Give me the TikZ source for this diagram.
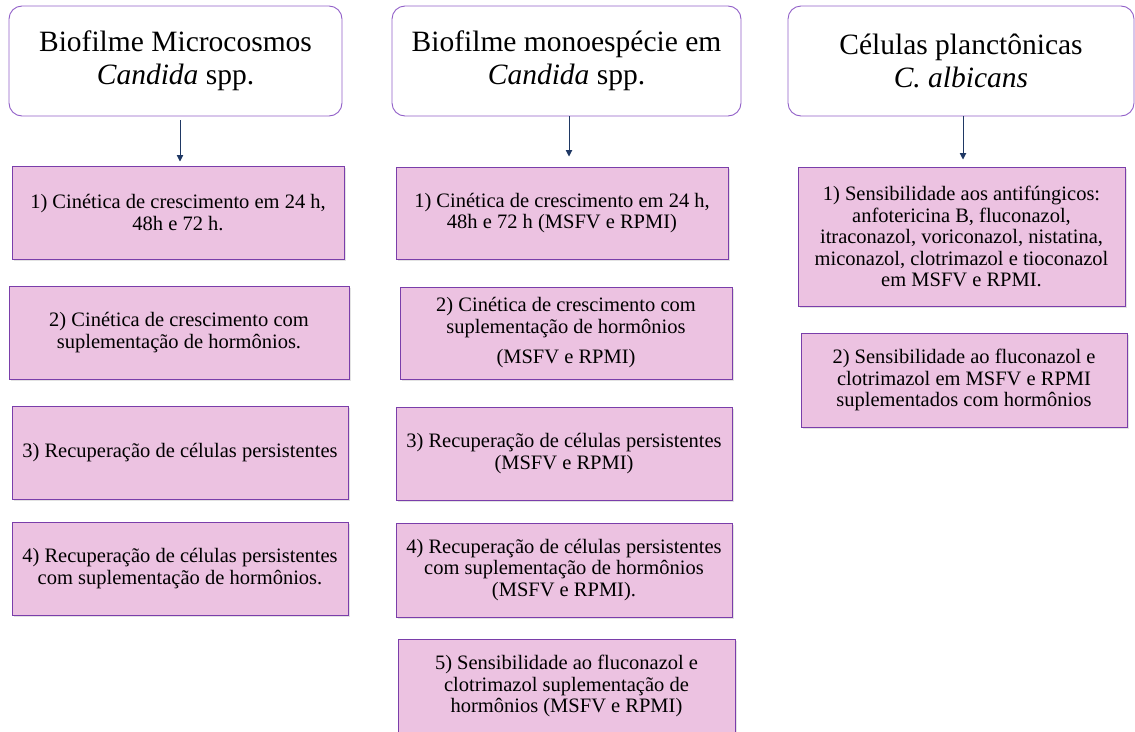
\documentclass[tikz,border=0pt]{standalone}
\usepackage{fontspec}
\setmainfont{Liberation Serif}
\usetikzlibrary{arrows.meta,shadows}
\definecolor{hdrborder}{RGB}{145,95,200}
\definecolor{boxfill}{RGB}{236,194,225}
\definecolor{boxborder}{RGB}{122,62,170}
\definecolor{arrowcol}{RGB}{31,56,100}
\begin{document}
\begin{tikzpicture}[x=1pt,y=1pt,
  hdr/.style={draw=hdrborder, line width=0.9pt, rounded corners=13pt, fill=white,
    align=center, font=\fontsize{29.5}{33}\selectfont, inner sep=0pt},
  stepbox/.style={draw=boxborder, line width=1pt, fill=boxfill, align=center,
    font=\fontsize{20.5}{21.5}\selectfont, inner sep=0pt,
    drop shadow={opacity=0.22, shadow xshift=1.5pt, shadow yshift=-1.5pt}},
  arr/.style={draw=arrowcol, line width=0.9pt, -{Triangle[length=6.5pt,width=6.5pt]}}]
\useasboundingbox (0,0) rectangle (1135,-731);

% headers
\node[hdr, minimum width=333pt, minimum height=110pt] (h1) at (175.5,-61)
  {Biofilme Microcosmos\\\textit{Candida} spp.};
\node[hdr, minimum width=349pt, minimum height=110pt] (h2) at (566.5,-61)
  {Biofilme monoespécie em\\\textit{Candida} spp.};
\node[hdr, minimum width=346pt, minimum height=110pt] (h3) at (961,-61)
  {Células planctônicas\\\textit{C. albicans}};

% column 1
\node[stepbox, minimum width=332pt, minimum height=93pt] (b1) at (178,-212.5)
  {1) Cinética de crescimento em 24 h,\\48h e 72 h.};
\node[stepbox, minimum width=340pt, minimum height=93pt] (b2) at (179,-332.5)
  {2) Cinética de crescimento com\\suplementação de hormônios.};
\node[stepbox, minimum width=336pt, minimum height=93pt] (b3) at (180,-452.5)
  {3) Recuperação de células persistentes};
\node[stepbox, minimum width=336pt, minimum height=93pt] (b4) at (180,-568.5)
  {4) Recuperação de células persistentes\\com suplementação de hormônios.};

% column 2
\node[stepbox, minimum width=332pt, minimum height=92pt] (c1) at (562,-213)
  {1) Cinética de crescimento em 24 h,\\48h e 72 h (MSFV e RPMI)};
\node[stepbox, minimum width=332pt, minimum height=92pt] (c2) at (566,-333)
  {2) Cinética de crescimento com\\suplementação de hormônios\\[9pt](MSFV e RPMI)};
\node[stepbox, minimum width=336pt, minimum height=93pt] (c3) at (564,-453.5)
  {3) Recuperação de células persistentes\\(MSFV e RPMI)};
\node[stepbox, minimum width=336pt, minimum height=94pt] (c4) at (564,-570)
  {4) Recuperação de células persistentes\\com suplementação de hormônios\\(MSFV e RPMI).};
\node[stepbox, minimum width=337pt, minimum height=94pt] (c5) at (566.5,-686)
  {5) Sensibilidade ao fluconazol e\\clotrimazol suplementação de\\hormônios (MSFV e RPMI)};

% column 3
\node[stepbox, minimum width=327pt, minimum height=139pt] (d1) at (961.5,-236.5)
  {1) Sensibilidade aos antifúngicos:\\anfotericina B, fluconazol,\\itraconazol, voriconazol, nistatina,\\miconazol, clotrimazol e tioconazol\\em MSFV e RPMI.};
\node[stepbox, minimum width=326pt, minimum height=94pt] (d2) at (964,-380)
  {2) Sensibilidade ao fluconazol e\\clotrimazol em MSFV e RPMI\\suplementados com hormônios};

% arrows
\coordinate (x1) at (180,0);
\coordinate (x2) at (569,0);
\coordinate (x3) at (963,0);
\draw[arr] ([yshift=-4pt]h1.south -| x1) -- ([yshift=4pt]b1.north -| x1);
\draw[arr] (h2.south -| x2) -- ([yshift=10pt]c1.north -| x2);
\draw[arr] (h3.south -| x3) -- ([yshift=7pt]d1.north -| x3);
\end{tikzpicture}
\end{document}
